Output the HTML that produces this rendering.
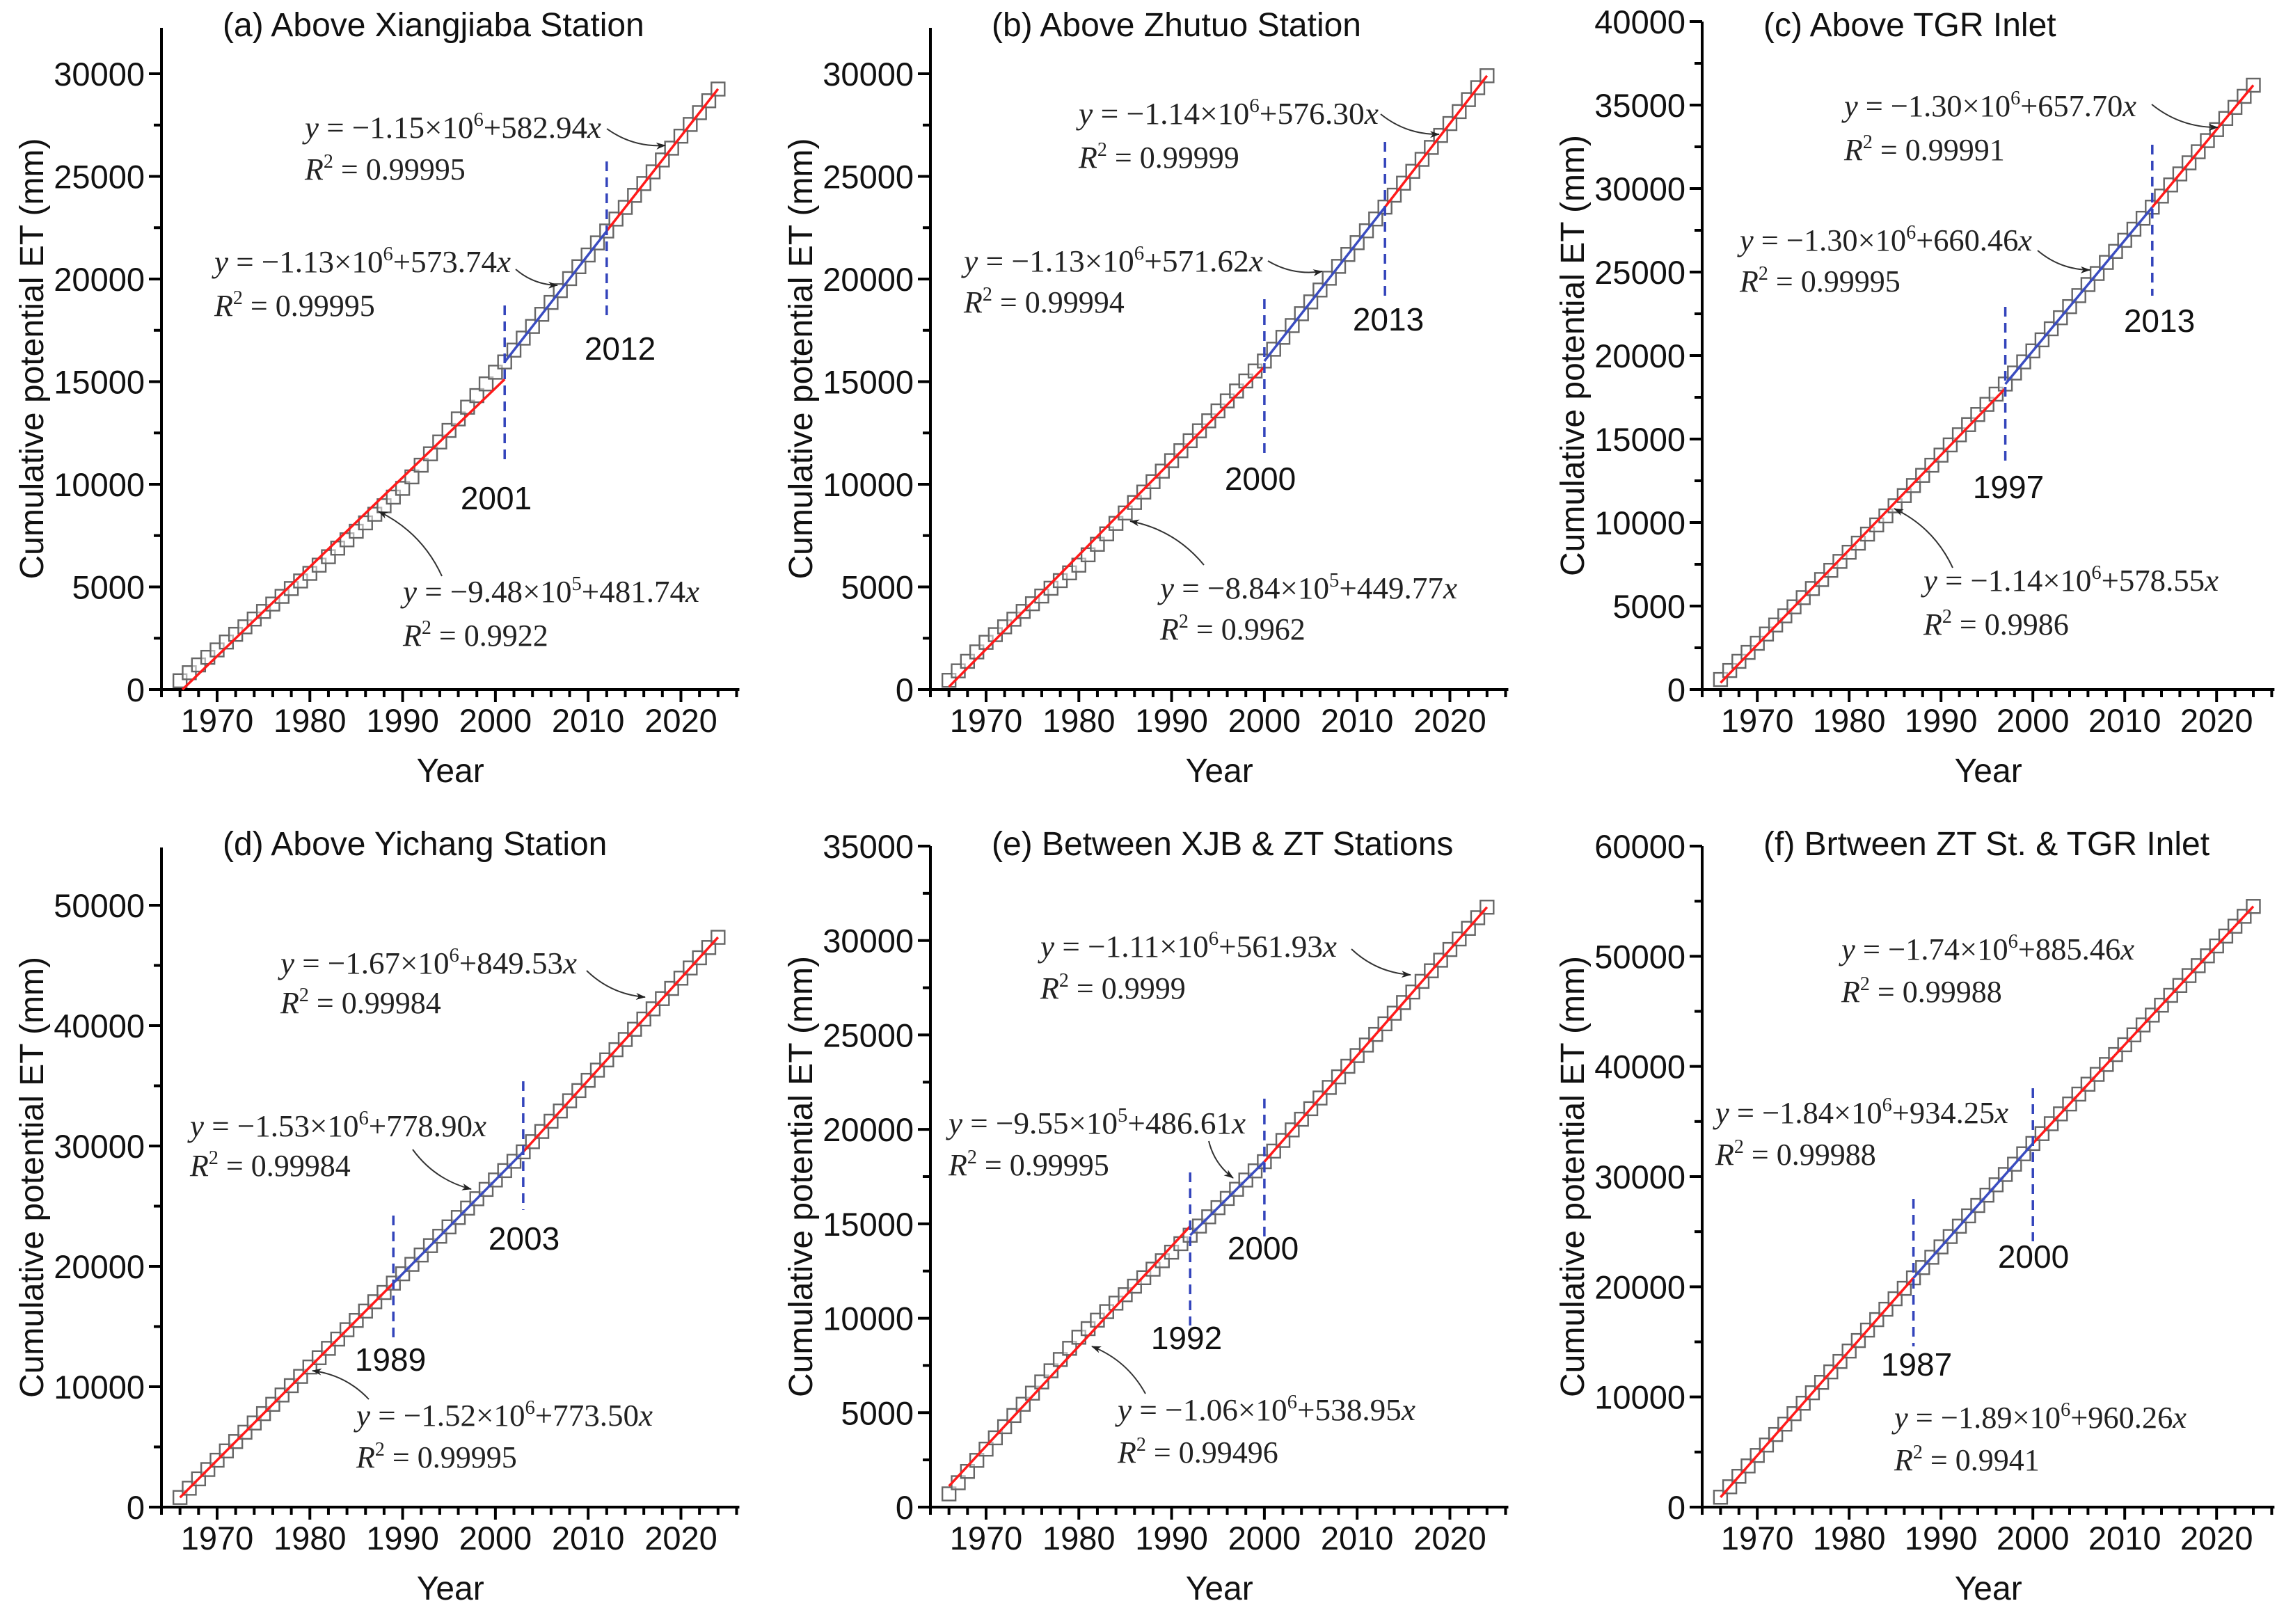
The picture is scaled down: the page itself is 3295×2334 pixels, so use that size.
<!DOCTYPE html>
<html>
<head>
<meta charset="utf-8">
<style>
  html, body { margin: 0; padding: 0; background: #ffffff; }
  svg { display: block; }
</style>
</head>
<body>
<svg id="chart" xmlns="http://www.w3.org/2000/svg" width="3295" height="2334" viewBox="0 0 3295 2334">
  <defs>
    <marker id="arrowhead" markerWidth="14" markerHeight="10" refX="13" refY="5" orient="auto" markerUnits="userSpaceOnUse">
      <path d="M0,0 L14,5 L0,10 L4,5 Z" fill="#222"/>
    </marker>
  </defs>
  <rect x="0" y="0" width="3295" height="2334" fill="#ffffff"/>
</svg>
<script>
// ---------------- DATA ----------------
const startYear = 1966;
// annual potential ET (mm), 1966..2024, per panel
const annualA = [430,390,380,370,360,385,375,365,380,370,360,375,380,370,370,400,410,420,405,415,410,420,415,420,425,560,570,555,575,565,560,570,565,570,570,500,575,585,570,590,580,575,585,580,570,590,580,580,570,585,575,570,580,575,585,570,575,580,570];
const annualB = [450,460,465,458,467,375,380,372,378,376,374,380,372,377,376,505,512,508,510,506,511,509,507,512,510,485,488,482,487,484,486,483,489,485,486,575,580,572,578,576,579,574,577,580,575,578,576,579,580,585,578,583,581,584,579,582,585,580,583];
const annualC = [600,540,550,535,545,555,540,548,538,552,545,540,550,535,548,545,542,550,540,605,612,600,610,608,604,612,606,610,605,608,612,605,660,665,658,664,662,660,666,659,663,661,665,660,664,662,658,665,662,668,660,665,663,667,660,664,666,662,665];
const annualD = [800,770,778,772,776,770,780,774,768,778,775,772,776,770,779,774,776,770,778,772,775,777,771,776,778,782,776,780,779,777,781,778,780,776,782,779,777,781,845,850,848,852,846,849,851,847,850,848,846,852,849,847,850,848,851,846,849,850,848];
const annualE = [700,590,600,585,595,598,590,592,596,588,594,590,597,592,588,455,448,452,450,446,452,449,451,447,453,450,448,485,490,484,488,486,489,485,487,560,565,558,563,561,564,559,562,560,566,558,563,561,562,564,559,563,560,562,565,558,561,563,560];
const annualF = [900,945,952,940,950,948,955,942,950,946,952,944,950,948,945,953,947,950,944,951,946,949,935,940,938,942,936,939,941,937,940,938,935,942,937,895,900,892,898,896,899,894,897,900,893,896,898,895,899,894,897,896,900,893,898,895,897,899,894];
// change-point years
const breaksA = [2001, 2012];
const breaksB = [2000, 2013];
const breaksC = [1997, 2013];
const breaksD = [1989, 2003];
const breaksE = [1992, 2000];
const breaksF = [1987, 2000];
// x tick labels
const xTickLabels = [1970, 1980, 1990, 2000, 2010, 2020];
// y tick labels
const yTicksA = [0,5000,10000,15000,20000,25000,30000];
const yTicksB = [0,5000,10000,15000,20000,25000,30000];
const yTicksC = [0,5000,10000,15000,20000,25000,30000,35000,40000];
const yTicksD = [0,10000,20000,30000,40000,50000];
const yTicksE = [0,5000,10000,15000,20000,25000,30000,35000];
const yTicksF = [0,10000,20000,30000,40000,50000,60000];
// panel titles
const titles = ["(a) Above Xiangjiaba Station","(b) Above Zhutuo Station","(c) Above TGR Inlet","(d) Above Yichang Station","(e) Between XJB & ZT Stations","(f) Brtween ZT St. & TGR Inlet"];

// ---------------- LAYOUT ----------------
const SVGNS = "http://www.w3.org/2000/svg";
const svg = document.getElementById('chart');
const xMin = 1964, xMax = 2026.3;

const panels = [
  { key:'a', annual:annualA, breaks:breaksA, yTicks:yTicksA, minor:2500, ax:232, ppy:13.33, y0:991, refVal:30000, refPix:106, top:40, titleY:52,
    eqs:[{c:'−1.15',e:'6',s:'582.94',r:'0.99995',x:438,y:198,w:426,ry:258},{c:'−1.13',e:'6',s:'573.74',r:'0.99995',x:308,y:391,w:426,ry:454},{c:'−9.48',e:'5',s:'481.74',r:'0.9922',x:579,y:865,w:426,ry:928}],
    arrows:[[872,185,956,209],[741,387,801,410],[635,828,544,735]],
    dashes:[{y1:439,y2:661,lx:713,ly:732},{y1:232,y2:454,lx:891,ly:517}] },
  { key:'b', annual:annualB, breaks:breaksB, yTicks:yTicksB, minor:2500, ax:1337, ppy:13.33, y0:991, refVal:30000, refPix:106, top:40, titleY:52,
    eqs:[{c:'−1.14',e:'6',s:'576.30',r:'0.99999',x:1550,y:178,w:431,ry:241},{c:'−1.13',e:'6',s:'571.62',r:'0.99994',x:1385,y:390,w:430,ry:449},{c:'−8.84',e:'5',s:'449.77',r:'0.9962',x:1667,y:860,w:427,ry:919}],
    arrows:[[1984,164,2068,193],[1822,375,1900,390],[1730,812,1624,749]],
    dashes:[{y1:430,y2:653,lx:1811,ly:704},{y1:204,y2:427,lx:1995,ly:475}] },
  { key:'c', annual:annualC, breaks:breaksC, yTicks:yTicksC, minor:2500, ax:2446, ppy:13.2, y0:991, refVal:40000, refPix:31, top:31, titleY:52,
    eqs:[{c:'−1.30',e:'6',s:'657.70',r:'0.99991',x:2650,y:167,w:420,ry:230},{c:'−1.30',e:'6',s:'660.46',r:'0.99995',x:2500,y:360,w:420,ry:419},{c:'−1.14',e:'6',s:'578.55',r:'0.9986',x:2764,y:849,w:424,ry:912}],
    arrows:[[3092,150,3187,183],[2928,360,3003,388],[2806,816,2722,731]],
    dashes:[{y1:441,y2:664,lx:2886,ly:716},{y1:208,y2:425,lx:3103,ly:477}] },
  { key:'d', annual:annualD, breaks:breaksD, yTicks:yTicksD, minor:5000, ax:232, ppy:13.33, y0:2166, refVal:50000, refPix:1301, top:1218, titleY:1229,
    eqs:[{c:'−1.67',e:'6',s:'849.53',r:'0.99984',x:403,y:1399,w:426,ry:1456},{c:'−1.53',e:'6',s:'778.90',r:'0.99984',x:273,y:1633,w:426,ry:1690},{c:'−1.52',e:'6',s:'773.50',r:'0.99995',x:512,y:2049,w:426,ry:2109}],
    arrows:[[843,1395,927,1433],[593,1652,677,1709],[530,2011,449,1970]],
    dashes:[{y1:1747,y2:1928,lx:561,ly:1970},{y1:1554,y2:1739,lx:753,ly:1796}] },
  { key:'e', annual:annualE, breaks:breaksE, yTicks:yTicksE, minor:2500, ax:1337, ppy:13.33, y0:2166, refVal:35000, refPix:1216, top:1216, titleY:1229,
    eqs:[{c:'−1.11',e:'6',s:'561.93',r:'0.9999',x:1495,y:1375,w:426,ry:1435},{c:'−9.55',e:'5',s:'486.61',r:'0.99995',x:1363,y:1629,w:427,ry:1689},{c:'−1.06',e:'6',s:'538.95',r:'0.99496',x:1606,y:2041,w:428,ry:2102}],
    arrows:[[1942,1364,2027,1401],[1737,1640,1772,1693],[1646,2003,1569,1935]],
    dashes:[{y1:1685,y2:1905,lx:1705,ly:1939},{y1:1579,y2:1784,lx:1815,ly:1810}] },
  { key:'f', annual:annualF, breaks:breaksF, yTicks:yTicksF, minor:5000, ax:2446, ppy:13.2, y0:2166, refVal:60000, refPix:1216, top:1216, titleY:1229,
    eqs:[{c:'−1.74',e:'6',s:'885.46',r:'0.99988',x:2646,y:1379,w:421,ry:1440},{c:'−1.84',e:'6',s:'934.25',r:'0.99988',x:2465,y:1614,w:421,ry:1674},{c:'−1.89',e:'6',s:'960.26',r:'0.9941',x:2722,y:2052,w:420,ry:2113}],
    arrows:[],
    dashes:[{y1:1723,y2:1935,lx:2754,ly:1977},{y1:1564,y2:1784,lx:2922,ly:1822}] }
];

function mk(tag, attrs, parent) {
  const el = document.createElementNS(SVGNS, tag);
  for (const k in attrs) el.setAttribute(k, attrs[k]);
  (parent || svg).appendChild(el);
  return el;
}

function fit(xs, ys) {
  const n = xs.length;
  let sx=0, sy=0, sxx=0, sxy=0;
  for (let i=0;i<n;i++){ sx+=xs[i]; sy+=ys[i]; sxx+=xs[i]*xs[i]; sxy+=xs[i]*ys[i]; }
  const b = (n*sxy - sx*sy) / (n*sxx - sx*sx);
  const a = (sy - b*sx) / n;
  return {a, b};
}

const AX_FONT = '"Liberation Sans", Arial, sans-serif';
const EQ_FONT = '"Liberation Serif", "Times New Roman", serif';

panels.forEach((p, pi) => {
  const g = mk('g', {});
  
  

  const xS = yr => p.ax + (yr - xMin) * p.ppy;
  const yS = v => p.y0 - v * (p.y0 - p.refPix) / p.refVal;
  const xRight = xS(xMax);

  const years = [], cum = [];
  let run = 0;
  p.annual.forEach((v, i) => { run += v; years.push(startYear + i); cum.push(run); });

  const axes = mk('g', {}, g);
  
  
  const yAxis = mk('line', {x1:p.ax, y1:p.top, x2:p.ax, y2:p.y0+2, stroke:'#000', 'stroke-width':4}, axes);
  
  
  const xAxis = mk('line', {x1:p.ax-18, y1:p.y0, x2:xRight, y2:p.y0, stroke:'#000', 'stroke-width':4}, axes);
  
  

  for (let yr = 1964; yr <= 2026; yr += 2) {
    const major = (yr % 10 === 0);
    mk('line', {x1:xS(yr), y1:p.y0, x2:xS(yr), y2:p.y0 + (major?18:11), stroke:'#000', 'stroke-width':4}, axes);
  }
  xTickLabels.forEach(yr => {
    const t = mk('text', {x:xS(yr), y:p.y0+61, 'font-family':AX_FONT, 'font-size':47, 'text-anchor':'middle', fill:'#111'}, axes);
    t.textContent = yr;
    
    
  });
  const topVal = (p.y0 - p.top) * p.refVal / (p.y0 - p.refPix);
  for (let v = 0; v <= topVal + 1; v += p.minor) {
    const isMajor = p.yTicks.indexOf(v) >= 0;
    mk('line', {x1:p.ax - (isMajor?18:11), y1:yS(v), x2:p.ax, y2:yS(v), stroke:'#000', 'stroke-width':4}, axes);
  }
  p.yTicks.forEach(v => {
    const t = mk('text', {x:p.ax-24, y:yS(v)+17, 'font-family':AX_FONT, 'font-size':47, 'text-anchor':'end', fill:'#111'}, axes);
    t.textContent = v;
    
    
  });
  const xt = mk('text', {x:(p.ax + xRight)/2, y:p.y0+133, 'font-family':AX_FONT, 'font-size':48, 'text-anchor':'middle', fill:'#111'}, g);
  xt.textContent = 'Year';
  
  
  const ycx = p.ax - 170, ycy = (p.top + p.y0) / 2;
  const yt = mk('text', {x:ycx, y:ycy, transform:'rotate(-90 ' + ycx + ' ' + ycy + ')', 'font-family':AX_FONT, 'font-size':48, 'text-anchor':'middle', fill:'#111'}, g);
  yt.textContent = 'Cumulative potential ET (mm)';
  
  
  const tt = mk('text', {x:p.ax+88, y:p.titleY, 'font-family':AX_FONT, 'font-size':48, fill:'#111'}, g);
  tt.textContent = titles[pi];
  
  

  const mg = mk('g', {}, g);
  
  
  years.forEach((yr, i) => {
    const r = mk('rect', {x:xS(yr)-9.5, y:yS(cum[i])-9.5, width:19, height:19, fill:'#fff', 'fill-opacity':0.5, stroke:'#666', 'stroke-width':2.4}, mg);
    
    
  });

  const b1 = p.breaks[0], b2 = p.breaks[1];
  const segs = [
    {lo:startYear, hi:b1, color:'#ff1a1a'},
    {lo:b1, hi:b2, color:'#3a4cc0'},
    {lo:b2, hi:startYear + p.annual.length - 1, color:'#ff1a1a'}
  ];
  segs.forEach((s, si) => {
    const xs = [], ys = [];
    years.forEach((yr, i) => { if (yr >= s.lo && yr <= s.hi) { xs.push(yr); ys.push(cum[i]); } });
    const f = fit(xs, ys);
    let xa = s.lo;
    if (si === 0) {
      const root = -f.a / f.b;
      if (root > xa) xa = root;
    }
    const xb = s.hi;
    const ln = mk('line', {x1:xS(xa), y1:yS(f.a + f.b*xa), x2:xS(xb), y2:yS(f.a + f.b*xb), stroke:s.color, 'stroke-width':3.5}, g);
    
    
  });

  p.dashes.forEach((d, di) => {
    const yr = p.breaks[di];
    const dl = mk('line', {x1:xS(yr), y1:d.y1, x2:xS(yr), y2:d.y2, stroke:'#3344bb', 'stroke-width':3.5, 'stroke-dasharray':'14 9'}, g);
    
    
    const lt = mk('text', {x:d.lx, y:d.ly, 'font-family':AX_FONT, 'font-size':46, 'text-anchor':'middle', fill:'#111'}, g);
    lt.textContent = yr;
    
    
  });

  p.eqs.forEach(q => {
    const t = mk('text', {x:q.x, y:q.y, 'font-family':EQ_FONT, 'font-size':44, fill:'#222', textLength:q.w, lengthAdjust:'spacingAndGlyphs'}, g);
    
    
    const s1 = mk('tspan', {'font-style':'italic'}, t); s1.textContent = 'y';
    const s2 = mk('tspan', {}, t); s2.textContent = ' = ' + q.c + '×10';
    const s3 = mk('tspan', {dy:-17, 'font-size':28}, t); s3.textContent = q.e;
    const s4 = mk('tspan', {dy:17}, t); s4.textContent = '+' + q.s;
    const s5 = mk('tspan', {'font-style':'italic'}, t); s5.textContent = 'x';
    const r = mk('text', {x:q.x, y:q.ry, 'font-family':EQ_FONT, 'font-size':44, fill:'#222'}, g);
    
    
    const r1 = mk('tspan', {'font-style':'italic'}, r); r1.textContent = 'R';
    const r2 = mk('tspan', {dy:-17, 'font-size':28}, r); r2.textContent = '2';
    const r3 = mk('tspan', {dy:17}, r); r3.textContent = ' = ' + q.r;
  });

  p.arrows.forEach(a => {
    const [x1,y1,x2,y2] = a;
    const mx = (x1+x2)/2, my = (y1+y2)/2;
    const dx = x2-x1, dy = y2-y1, L = Math.hypot(dx,dy);
    const cx = mx + (-dy/L)*L*0.18, cy = my + (dx/L)*L*0.18;
    const pa = mk('path', {d:'M'+x1+','+y1+' Q'+cx+','+cy+' '+x2+','+y2, fill:'none', stroke:'#333', 'stroke-width':2, 'marker-end':'url(#arrowhead)'}, g);
    
    
  });
});
</script>
</body>
</html>
